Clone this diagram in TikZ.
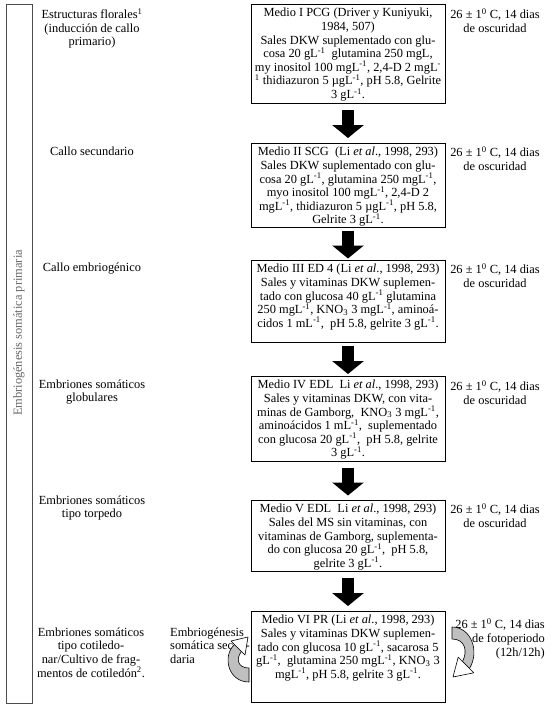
\documentclass[tikz,border=0pt]{standalone}
\usepackage{fontspec}
\setmainfont{Liberation Serif}
\usetikzlibrary{arrows.meta,calc}
\newcommand{\supinv}{\textsuperscript{-1}}
\begin{document}
\begin{tikzpicture}[x=1pt,y=-1pt,
  txt/.style={font=\fontsize{12.4}{13.6}\selectfont, inner sep=0pt, align=center},
  box/.style={draw=black, line width=0.8pt, minimum width=194pt, inner sep=0pt},
  btext/.style={txt, anchor=north},
  ltext/.style={txt, anchor=north},
  rtext/.style={txt, anchor=north},
  blockarr/.style={line width=12pt, -{Triangle[length=13pt,width=31pt]}, black},
  curvarrow/.style={fill=black!25, draw=black, line width=0.6pt, line join=round},
  openhead/.style={fill=white, draw=black, line width=0.6pt, line join=round}
]
\useasboundingbox (0,0) rectangle (558,710);

% side frame
\node[draw=black!70, line width=0.8pt, minimum width=26pt, minimum height=699pt, inner sep=0pt] (side) at (19,353.5) {};
\node[txt, rotate=90, text=black!60] (sidelabel) at (19,333) {Embriogénesis somática primaria};

% boxes
\node[box, minimum height=99pt] (b1) at (348,53.5) {};
\node[box, minimum height=84pt] (b2) at (348,185) {};
\node[box, minimum height=82pt] (b3) at (348,301) {};
\node[box, minimum height=85pt] (b4) at (348,418.5) {};
\node[box, minimum height=71pt] (b5) at (348,535.5) {};
\node[box, minimum height=91pt] (b6) at (348,656.5) {};

% box texts
\node[btext] (t1) at ([yshift=-4.5pt]b1.north) {Medio I PCG (Driver y Kuniyuki,\\1984, 507)\\Sales DKW suplementado con glu-\\cosa 20 gL\supinv\ \ glutamina 250 mgL,\\my inositol 100 mgL\supinv, 2,4-D 2 mgL\textsuperscript{-}\\\textsuperscript{1} thidiazuron 5 µgL\supinv, pH 5.8, Gelrite\\3 gL\supinv.};
\node[btext] (t2) at ([yshift=-4.5pt]b2.north) {Medio II SCG\ \ (Li \textit{et al}., 1998, 293)\\Sales DKW suplementado con glu-\\cosa 20 gL\supinv, glutamina 250 mgL\supinv,\\myo inositol 100 mgL\supinv, 2,4-D 2\\mgL\supinv, thidiazuron 5 µgL\supinv, pH 5.8,\\Gelrite 3 gL\supinv.};
\node[btext] (t3) at ([yshift=-4.5pt]b3.north) {Medio III ED 4 (Li \textit{et al}., 1998, 293)\\Sales y vitaminas DKW suplemen-\\tado con glucosa 40 gL\supinv\ glutamina\\250 mgL\supinv, KNO\textsubscript{3} 3 mgL\supinv, aminoá-\\cidos 1 mL\supinv,\ \ pH 5.8, gelrite 3 gL\supinv.};
\node[btext] (t4) at ([yshift=-4.5pt]b4.north) {Medio IV EDL\ \ Li \textit{et al}., 1998, 293)\\Sales y vitaminas DKW, con vita-\\minas de Gamborg,\ \ KNO\textsubscript{3} 3 mgL\supinv,\\aminoácidos 1 mL\supinv,\ \ suplementado\\con glucosa 20 gL\supinv,\ \ pH 5.8, gelrite\\3 gL\supinv.};
\node[btext] (t5) at ([yshift=-4.5pt]b5.north) {Medio V EDL\ \ Li \textit{et al}., 1998, 293)\\Sales del MS sin vitaminas, con\\vitaminas de Gamborg, suplementa-\\do con glucosa 20 gL\supinv,\ \ pH 5.8,\\gelrite 3 gL\supinv.};
\node[btext] (t6) at ([yshift=-4.5pt]b6.north) {Medio VI PR (Li \textit{et al}., 1998, 293)\\Sales y vitaminas DKW suplemen-\\tado con glucosa 10 gL\supinv, sacarosa 5\\gL\supinv,\ \ glutamina 250 mgL\supinv, KNO\textsubscript{3} 3\\mgL\supinv, pH 5.8, gelrite 3 gL\supinv.};

% block arrows
\draw[blockarr] ($(b1.south)!0.5!(b2.north)+(0,-13)$) -- ($(b1.south)!0.5!(b2.north)+(0,15)$);
\draw[blockarr] ($(b2.south)!0.5!(b3.north)+(0,-13)$) -- ($(b2.south)!0.5!(b3.north)+(0,15)$);
\draw[blockarr] ($(b3.south)!0.5!(b4.north)+(0,-13)$) -- ($(b3.south)!0.5!(b4.north)+(0,15)$);
\draw[blockarr] ($(b4.south)!0.5!(b5.north)+(0,-13)$) -- ($(b4.south)!0.5!(b5.north)+(0,15)$);
\draw[blockarr] ($(b5.south)!0.5!(b6.north)+(0,-13)$) -- ($(b5.south)!0.5!(b6.north)+(0,15)$);

% left labels
\node[ltext] (l1) at (92,8.5) {Estructuras florales\textsuperscript{1}\\(inducción de callo\\primario)};
\node[ltext] (l2) at (92,146.5) {Callo secundario};
\node[ltext] (l3) at (92,262.5) {Callo embriogénico};
\node[ltext] (l4) at (92,379.5) {Embriones somáticos\\globulares};
\node[ltext] (l5) at (92,495.5) {Embriones somáticos\\tipo torpedo};
\node[ltext] (l6) at (91,627.5) {Embriones somáticos\\tipo cotiledo-\\nar/Cultivo de frag-\\mentos de cotiledón\textsuperscript{2}.};
\node[txt, align=left, anchor=north west] (l7) at (170,627.5) {Embriogénesis\\somática secun-\\daria};

% right labels
\node[rtext] (r1) at (495,8.5) {26 ± 1\textsuperscript{0} C, 14 dias\\de oscuridad};
\node[rtext] (r2) at (495,146.5) {26 ± 1\textsuperscript{0} C, 14 dias\\de oscuridad};
\node[rtext] (r3) at (495,263.5) {26 ± 1\textsuperscript{0} C, 14 dias\\de oscuridad};
\node[rtext] (r4) at (495,380.5) {26 ± 1\textsuperscript{0} C, 14 dias\\de oscuridad};
\node[rtext] (r5) at (495,503.5) {26 ± 1\textsuperscript{0} C, 14 dias\\de oscuridad};
\node[txt, align=right, anchor=north east] (r6) at (545,618.5) {26 ± 1\textsuperscript{0} C, 14 dias\\de fotoperiodo\\(12h/12h)};

% curved arrows
\filldraw[curvarrow] (452,627) .. controls (471,627) and (480,651) .. (469.5,668.5) -- (462.5,661.5) .. controls (468,651) and (465,639) .. (452,639) -- cycle;
\filldraw[openhead] (458.2,657.2) -- (453,677) -- (473.8,672.8) -- cycle;
\filldraw[curvarrow] (249,682) .. controls (228,682) and (222,656) .. (234.5,644.5) -- (241.5,651.5) .. controls (236,658) and (237,668) .. (249,668) -- cycle;
\filldraw[openhead] (245,655) -- (248,637) -- (231,641) -- cycle;
\end{tikzpicture}
\end{document}
